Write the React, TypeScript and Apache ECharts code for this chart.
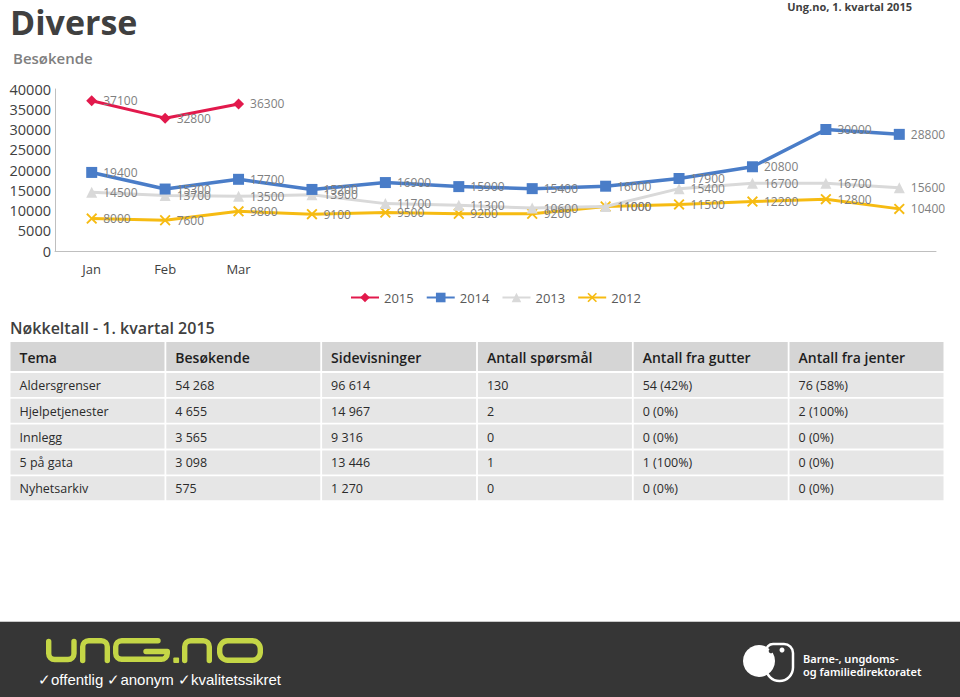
import React, { useEffect, useRef } from 'react';
import * as echarts from 'echarts';

// ---------- data ----------
const months = ['Jan', 'Feb', 'Mar', '', '', '', '', '', '', '', '', ''];
const seriesNames = ['2015', '2014', '2013', '2012'];
const v2015 = [37100, 32800, 36300];
const v2014 = [19400, 15300, 17700, 15200, 16900, 15900, 15400, 16000, 17900, 20800, 30000, 28800];
const v2013 = [14500, 13700, 13500, 13900, 11700, 11300, 10600, 11000, 15400, 16700, 16700, 15600];
const v2012 = [8000, 7600, 9800, 9100, 9500, 9200, 9200, 11000, 11500, 12200, 12800, 10400];

const tableHeaders = ['Tema', 'Besøkende', 'Sidevisninger', 'Antall spørsmål', 'Antall fra gutter', 'Antall fra jenter'];
const temaCol = ['Aldersgrenser', 'Hjelpetjenester', 'Innlegg', '5 på gata', 'Nyhetsarkiv'];
const besokendeCol = ['54 268', '4 655', '3 565', '3 098', '575'];
const sidevisningerCol = ['96 614', '14 967', '9 316', '13 446', '1 270'];
const sporsmalCol = ['130', '2', '0', '1', '0'];
const gutterCol = ['54 (42%)', '0 (0%)', '0 (0%)', '1 (100%)', '0 (0%)'];
const jenterCol = ['76 (58%)', '2 (100%)', '0 (0%)', '0 (0%)', '0 (0%)'];

// ---------- styles ----------
const FONT = "'Open Sans', 'Noto Sans', sans-serif";
const RED = '#e2194c';
const BLUE = '#4a7dc8';
const GRAY = '#d9d9d9';
const GOLD = '#f6bb12';
const LIME = '#c4d646';
const DARK = '#363636';

const ungPath =
  'M48.7,641.5 V653.5 A6,6 0 0 0 54.7,659.5 H68 A6,6 0 0 0 74,653.5 V641.5 ' +
  'M82.7,660.5 V646.7 A6,6 0 0 1 88.7,640.7 H101.3 A6,6 0 0 1 107.3,646.7 V660.5 ' +
  'M158,640.7 H121.7 A6,6 0 0 0 115.7,646.7 V653.3 A6,6 0 0 0 121.7,659.3 H161.3 A6,6 0 0 0 167.3,653.3 V651.5 H146 ' +
  'M184.7,660.5 V646.7 A6,6 0 0 1 190.7,640.7 H203.3 A6,6 0 0 1 209.3,646.7 V660.5';

echarts.graphic.registerShape('ungLetters', echarts.graphic.extendPath(ungPath, {}));

const xSymbol = 'path://M0,1.2L1.2,0L5,3.8L8.8,0L10,1.2L6.2,5L10,8.8L8.8,10L5,6.2L1.2,10L0,8.8L3.8,5Z';

function buildTable(): any[] {
  const cols = [temaCol, besokendeCol, sidevisningerCol, sporsmalCol, gutterCol, jenterCol];
  const left = 10.5;
  const pitch = 155.8;
  const cellW = 154;
  const els: any[] = [];
  tableHeaders.forEach((h, c) => {
    const x = left + c * pitch;
    els.push({ type: 'rect', shape: { x, y: 342, width: cellW, height: 29 }, style: { fill: '#d5d5d5' } });
    els.push({
      type: 'text', x: x + 9, y: 357,
      style: { text: h, fill: '#1e1e1e', fontSize: 14, fontWeight: 600, fontFamily: FONT, verticalAlign: 'middle', textVerticalAlign: 'middle' },
    });
  });
  cols.forEach((col, c) => {
    const x = left + c * pitch;
    col.forEach((val, r) => {
      const y = 373 + r * 25.8;
      els.push({ type: 'rect', shape: { x, y, width: cellW, height: 24 }, style: { fill: '#e6e6e6' } });
      els.push({
        type: 'text', x: x + 9, y: y + 12.5,
        style: { text: val, fill: '#2b2b2b', fontSize: 12.5, fontFamily: FONT, verticalAlign: 'middle', textVerticalAlign: 'middle' },
      });
    });
  });
  return els;
}

export default function App() {
  const ref = useRef<HTMLDivElement>(null);
  useEffect(() => {
    if (!ref.current) return;
    const chart = echarts.init(ref.current, undefined, { renderer: 'svg' });
    const labelStyle = { show: true, position: 'right', distance: 6, color: '#7f7f7f', fontSize: 12, fontFamily: FONT };
    const option: any = {
      animation: false,
      backgroundColor: '#ffffff',
      textStyle: { fontFamily: FONT },
      grid: { left: 55, right: 24, top: 89, bottom: 446, containLabel: false },
      legend: {
        data: seriesNames,
        left: 345,
        top: 286,
        itemGap: 12,
        itemWidth: 28,
        itemHeight: 12,
        textStyle: { color: '#595959', fontSize: 13, fontFamily: FONT },
      },
      xAxis: {
        type: 'category',
        data: months,
        boundaryGap: true,
        axisLine: { show: true, lineStyle: { color: '#bfbfbf', width: 1 } },
        axisTick: { show: false },
        axisLabel: { color: '#404040', fontSize: 13, margin: 11, fontFamily: FONT, interval: 0 },
        splitLine: { show: false },
      },
      yAxis: {
        type: 'value',
        min: 0,
        max: 40000,
        interval: 5000,
        axisLine: { show: true, lineStyle: { color: '#bfbfbf', width: 1 } },
        axisTick: { show: false },
        splitLine: { show: false },
        axisLabel: { color: '#404040', fontSize: 14.5, margin: 4, fontFamily: FONT, formatter: (v: number) => String(v) },
      },
      series: [
        {
          name: '2015', type: 'line', data: v2015, color: RED,
          symbol: 'diamond', symbolSize: 11,
          lineStyle: { width: 3, color: RED }, itemStyle: { color: RED },
          label: labelStyle, z: 5,
        },
        {
          name: '2014', type: 'line', data: v2014, color: BLUE,
          symbol: 'rect', symbolSize: 11,
          lineStyle: { width: 3.5, color: BLUE }, itemStyle: { color: BLUE },
          label: labelStyle, z: 4,
        },
        {
          name: '2013', type: 'line', data: v2013, color: GRAY,
          symbol: 'triangle', symbolSize: 11,
          lineStyle: { width: 3, color: GRAY }, itemStyle: { color: GRAY },
          label: labelStyle, z: 3,
        },
        {
          name: '2012', type: 'line', data: v2012, color: GOLD,
          symbol: xSymbol, symbolSize: 11,
          lineStyle: { width: 3, color: GOLD }, itemStyle: { color: GOLD },
          label: labelStyle, z: 2,
        },
      ],
      graphic: [
        {
          type: 'text', x: 10, y: 22,
          style: { text: 'Diverse', fill: '#404040', fontSize: 34, fontWeight: 'bold', fontFamily: FONT, verticalAlign: 'middle', textVerticalAlign: 'middle' },
        },
        {
          type: 'text', x: 13, y: 58,
          style: { text: 'Besøkende', fill: '#7f7f7f', fontSize: 15, fontWeight: 600, fontFamily: FONT, verticalAlign: 'middle', textVerticalAlign: 'middle' },
        },
        {
          type: 'text', x: 912, y: 6,
          style: { text: 'Ung.no, 1. kvartal 2015', fill: '#404040', fontSize: 11, fontWeight: 'bold', fontFamily: FONT, align: 'right', textAlign: 'right', verticalAlign: 'middle', textVerticalAlign: 'middle' },
        },
        {
          type: 'text', x: 10, y: 328,
          style: { text: 'Nøkkeltall - 1. kvartal 2015', fill: '#404040', fontSize: 16, fontWeight: 600, fontFamily: FONT, verticalAlign: 'middle', textVerticalAlign: 'middle' },
        },
        ...buildTable(),
        // footer band
        { type: 'rect', shape: { x: 0, y: 622, width: 960, height: 75 }, style: { fill: DARK } },
        { type: 'line', shape: { x1: 0, y1: 621.5, x2: 960, y2: 621.5 }, style: { stroke: '#c9c9c9', lineWidth: 1 } },
        {
          type: 'ungLetters', x: 0, y: 0,
          style: { fill: 'none', stroke: LIME, lineWidth: 5.4, lineCap: 'round', lineJoin: 'round' },
        },
        { type: 'rect', shape: { x: 173.3, y: 657.5, width: 5.8, height: 5.6, r: 1 }, style: { fill: LIME } },
        { type: 'rect', shape: { x: 219.7, y: 640.7, width: 40.6, height: 19.6, r: 8 }, style: { fill: 'none', stroke: LIME, lineWidth: 5.4 } },
        {
          type: 'text', x: 38, y: 679,
          style: { text: '✓offentlig ✓anonym ✓kvalitetssikret', fill: '#ffffff', fontSize: 15, fontFamily: "'Liberation Sans', Arial, sans-serif", verticalAlign: 'middle', textVerticalAlign: 'middle' },
        },
        // Bufdir logo
        { type: 'rect', shape: { x: 766, y: 644, width: 27, height: 37, r: [7, 9, 14, 14] }, style: { fill: DARK, stroke: '#ffffff', lineWidth: 2.5 } },
        { type: 'circle', shape: { cx: 759, cy: 661, r: 16 }, style: { fill: '#ffffff' } },
        { type: 'circle', shape: { cx: 771, cy: 651, r: 2.3 }, style: { fill: DARK } },
        { type: 'circle', shape: { cx: 782, cy: 650, r: 2.5 }, style: { fill: '#ffffff' } },
        {
          type: 'text', x: 803, y: 658,
          style: { text: 'Barne-, ungdoms-', fill: '#ffffff', fontSize: 11, fontWeight: 600, fontFamily: "'Noto Sans', sans-serif", verticalAlign: 'middle', textVerticalAlign: 'middle' },
        },
        {
          type: 'text', x: 803, y: 671,
          style: { text: 'og familiedirektoratet', fill: '#ffffff', fontSize: 11, fontWeight: 600, fontFamily: "'Noto Sans', sans-serif", verticalAlign: 'middle', textVerticalAlign: 'middle' },
        },
      ],
    };
    chart.setOption(option);
    return () => chart.dispose();
  }, []);
  return <div ref={ref} style={{ position: 'absolute', left: 0, top: 0, width: 960, height: 697 }} />;
}
